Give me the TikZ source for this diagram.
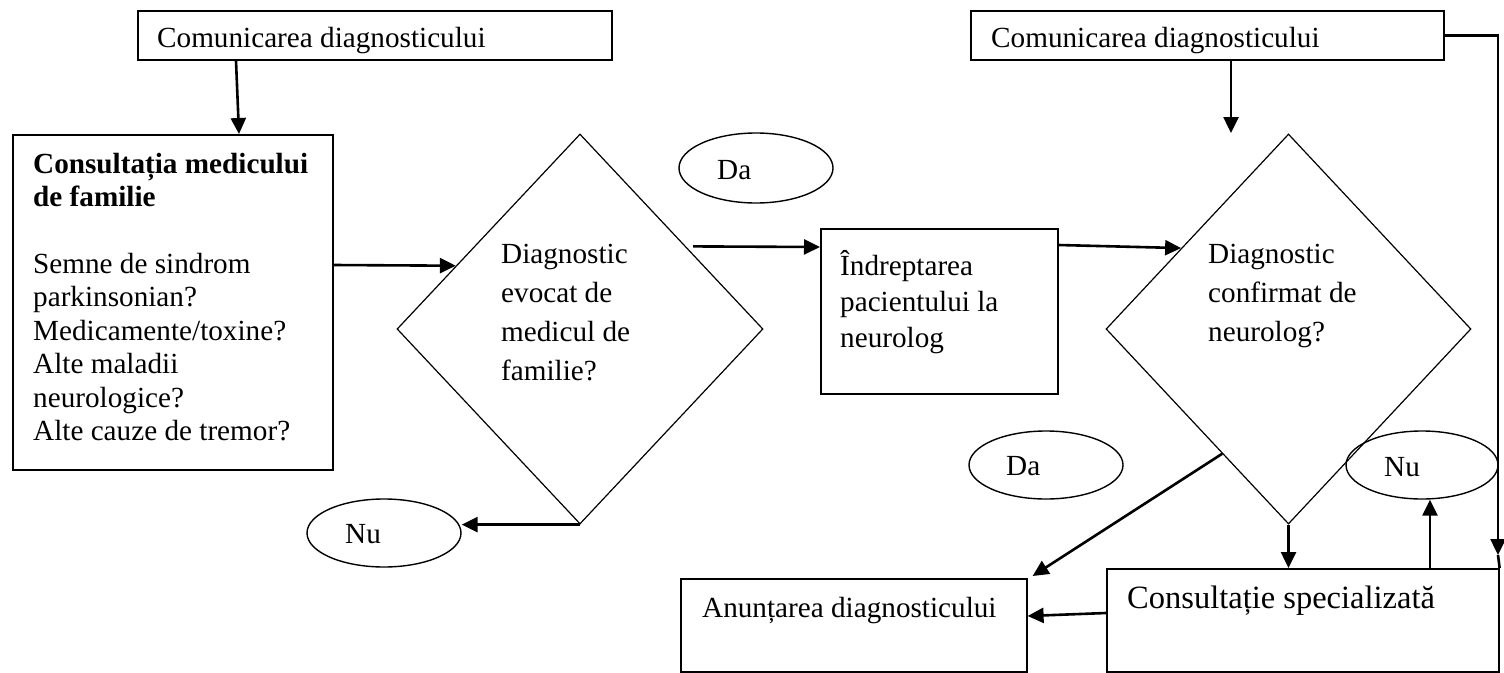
\documentclass[tikz,border=0pt]{standalone}
\usepackage{fontspec}
\setmainfont{Liberation Serif}
\usetikzlibrary{arrows.meta,shapes.geometric,calc}
\newcommand\myfs{\rule{0pt}{30pt}}
\begin{document}
\begin{tikzpicture}[x=1pt,y=-1pt,
  box/.style={draw,line width=1.6pt,rectangle,inner sep=0pt,anchor=north west},
  dia/.style={draw,line width=1.2pt,diamond,inner sep=0pt},
  oval/.style={draw,line width=1.4pt,ellipse,inner sep=0pt,minimum width=154pt,minimum height=68pt},
  txt/.style={inner sep=0pt,anchor=north west,align=left,font=\fontsize{29.2pt}{33.4pt}\selectfont},
  one/.style={inner sep=0pt,anchor=base west,font=\fontsize{29.2pt}{33.4pt}\selectfont},
  arr/.style={line width=2.6pt,-{Triangle[length=16pt,width=15pt]}},
  conn/.style={line width=2.6pt}]
\useasboundingbox (0,0) rectangle (1504,672);

% boxes
\node[box,minimum width=474pt,minimum height=49pt] (top1) at (137,10) {};
\node[box,minimum width=473pt,minimum height=49pt] (top2) at (970,10) {};
\node[box,minimum width=320pt,minimum height=335pt] (consult) at (12,134) {};
\node[box,minimum width=237pt,minimum height=165pt] (indr) at (820,228) {};
\node[box,minimum width=346pt,minimum height=93pt] (anunt) at (680,578) {};
\node[box,minimum width=392pt,minimum height=103pt] (spec) at (1106,568) {};

% diamonds
\node[dia,minimum width=366pt,minimum height=390pt] (d1) at (580,329) {};
\node[dia,minimum width=365pt,minimum height=390pt] (d2) at (1288.5,329) {};

% ellipses
\node[oval,minimum height=70pt] (daT) at (756,168) {};
\node[oval] (nuL) at (384,533) {};
\node[oval] (daB) at (1046,465) {};
\node[oval,minimum width=152pt] (nuR) at (1422,465) {};

% texts
\node[one] (top1t) at (157,47) {Comunicarea diagnosticului};
\node[one] (top2t) at (991,47) {Comunicarea diagnosticului};
\node[txt] (consultt) at (33,143) {\myfs\textbf{Consultația medicului}\\\textbf{de familie}\\[33.4pt]Semne de sindrom\\parkinsonian?\\Medicamente/toxine?\\Alte maladii\\neurologice?\\Alte cauze de tremor?};
\node[txt,font=\fontsize{29.2pt}{39pt}\selectfont] (d1t) at (501,233) {\myfs Diagnostic\\evocat de\\medicul de\\familie?};
\node[txt,font=\fontsize{29.2pt}{39pt}\selectfont] (d2t) at (1208,233) {\myfs Diagnostic\\confirmat de\\neurolog?};
\node[txt,font=\fontsize{29.2pt}{36pt}\selectfont] (indrt) at (840,245) {\myfs Îndreptarea\\pacientului la\\neurolog};
\node[one] (anuntt) at (702,617) {Anunțarea diagnosticului};
\node[one,font=\fontsize{32.5pt}{38pt}\selectfont] (spect) at (1127,608) {Consultație specializată};
\node[one] (daTt) at (717,179) {Da};
\node[one] (nuLt) at (345,543) {Nu};
\node[one] (daBt) at (1006,475) {Da};
\node[one] (nuRt) at (1384,476) {Nu};

% connectors
\draw[arr] ($(top1.south west)+(99,0)$) -- ($(consult.north west)+(227,0)$);
\draw[arr] (consult.east |- 0,265) -- (d1.153);
\draw[arr] (d1.south) -- (nuL.east |- d1.south);
\draw[arr] ($(d1.north)+(113,113)$) -- (indr.west |- 0,247);
\draw[arr] (indr.east |- 0,245) -- (d2.143);
\coordinate (t2tip) at (1231,133);
\draw[arr] (top2.south -| t2tip) -- (t2tip);
\coordinate (rtip) at (1498,555);
\draw[arr] (top2.east) -| (rtip);
\draw[conn] (rtip) -- (spec.north east);
\draw[arr] (d2.south) -- (spec.north -| d2.south);
\draw[arr] (spec.north -| 1430,0) -- (1430,0 |- nuR.south);
\draw[arr] (d2.242) -- ($(anunt.north east)+(5,-2)$);
\draw[arr] (spec.west |- 0,613) -- (anunt.east |- 0,616);
\end{tikzpicture}
\end{document}
